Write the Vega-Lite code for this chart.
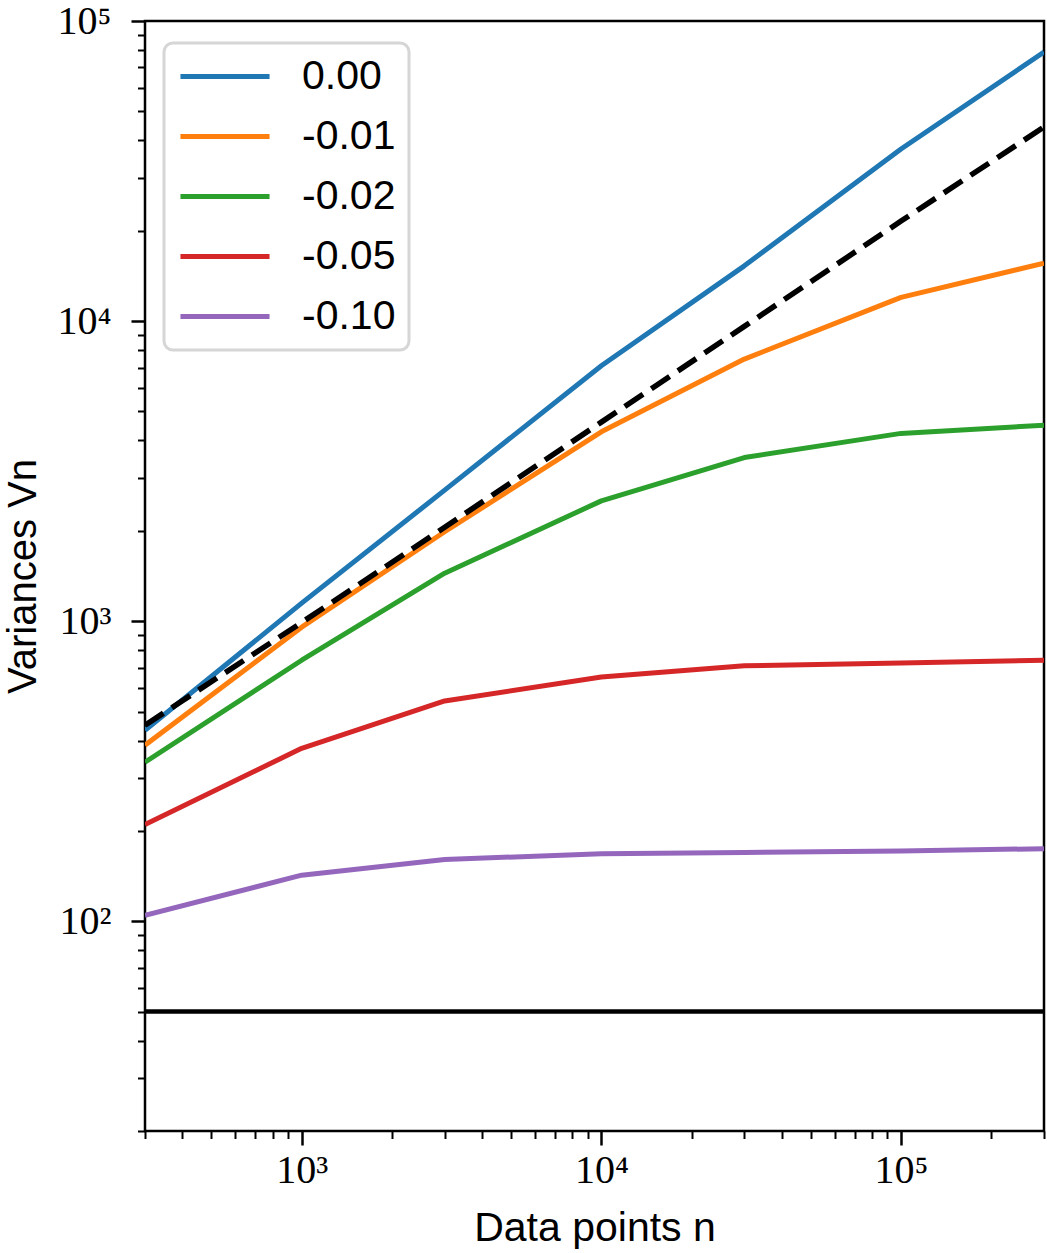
{
  "$schema": "https://vega.github.io/schema/vega-lite/v6.json",
  "width": 899,
  "height": 1110,
  "autosize": {"type": "none"},
  "padding": {"left": 145, "top": 21, "right": 3, "bottom": 122},
  "background": "white",
  "config": {
    "view": {"stroke": "black", "strokeWidth": 2.5},
    "axis": {"grid": false, "domain": false, "tickColor": "black", "labelColor": "black", "titleColor": "black"}
  },
  "datasets": {
    "curves": [
      {"n": 300, "v": 433, "s": "0.00"},
      {"n": 1000, "v": 1148, "s": "0.00"},
      {"n": 3000, "v": 2733, "s": "0.00"},
      {"n": 10000, "v": 7097, "s": "0.00"},
      {"n": 30000, "v": 15280, "s": "0.00"},
      {"n": 100000, "v": 37450, "s": "0.00"},
      {"n": 300000, "v": 78800, "s": "0.00"},
      {"n": 300, "v": 386, "s": "-0.01"},
      {"n": 1000, "v": 955, "s": "-0.01"},
      {"n": 3000, "v": 1986, "s": "-0.01"},
      {"n": 10000, "v": 4277, "s": "-0.01"},
      {"n": 30000, "v": 7470, "s": "-0.01"},
      {"n": 100000, "v": 12000, "s": "-0.01"},
      {"n": 300000, "v": 15600, "s": "-0.01"},
      {"n": 300, "v": 339, "s": "-0.02"},
      {"n": 1000, "v": 741, "s": "-0.02"},
      {"n": 3000, "v": 1445, "s": "-0.02"},
      {"n": 10000, "v": 2517, "s": "-0.02"},
      {"n": 30000, "v": 3510, "s": "-0.02"},
      {"n": 100000, "v": 4224, "s": "-0.02"},
      {"n": 300000, "v": 4500, "s": "-0.02"},
      {"n": 300, "v": 210, "s": "-0.05"},
      {"n": 1000, "v": 377, "s": "-0.05"},
      {"n": 3000, "v": 542, "s": "-0.05"},
      {"n": 10000, "v": 652, "s": "-0.05"},
      {"n": 30000, "v": 710, "s": "-0.05"},
      {"n": 100000, "v": 726, "s": "-0.05"},
      {"n": 300000, "v": 741, "s": "-0.05"},
      {"n": 300, "v": 104.7, "s": "-0.10"},
      {"n": 1000, "v": 142.4, "s": "-0.10"},
      {"n": 3000, "v": 160.6, "s": "-0.10"},
      {"n": 10000, "v": 168, "s": "-0.10"},
      {"n": 30000, "v": 169.5, "s": "-0.10"},
      {"n": 100000, "v": 171.5, "s": "-0.10"},
      {"n": 300000, "v": 174.5, "s": "-0.10"}
    ],
    "ref": [
      {"n": 300, "v": 450},
      {"n": 1000, "v": 990},
      {"n": 3000, "v": 2057},
      {"n": 10000, "v": 4605},
      {"n": 30000, "v": 9600},
      {"n": 100000, "v": 21540},
      {"n": 300000, "v": 44350}
    ],
    "hline": [{"level": 50}]
  },
  "resolve": {"axis": {"x": "independent", "y": "independent"}},
  "layer": [
    {
      "data": {"name": "curves"},
      "mark": {"type": "line", "strokeWidth": 5, "strokeJoin": "round", "clip": true},
      "encoding": {
        "x": {
          "field": "n", "type": "quantitative",
          "scale": {"type": "log", "domain": [300, 300000], "nice": false},
          "axis": {
            "orient": "bottom",
            "values": [1000, 10000, 100000],
            "labelExpr": "datum.value == 1000 ? '10³' : datum.value == 10000 ? '10⁴' : '10⁵'",
            "tickSize": 14, "tickWidth": 2.5,
            "labelFont": "Liberation Serif", "labelFontSize": 40, "labelPadding": 5,
            "title": "Data points n",
            "titleFont": "Liberation Sans", "titleFontSize": 41, "titleFontWeight": "normal",
            "titleY": 109, "titleBaseline": "alphabetic"
          }
        },
        "y": {
          "field": "v", "type": "quantitative",
          "scale": {"type": "log", "domain": [20, 100000], "nice": false},
          "axis": {
            "orient": "left",
            "values": [100, 1000, 10000, 100000],
            "labelExpr": "datum.value == 100 ? '10²' : datum.value == 1000 ? '10³' : datum.value == 10000 ? '10⁴' : '10⁵'",
            "tickSize": 14, "tickWidth": 2.5,
            "labelFont": "Liberation Serif", "labelFontSize": 40, "labelPadding": 20,
            "title": "Variances Vn",
            "titleFont": "Liberation Sans", "titleFontSize": 40, "titleFontWeight": "normal",
            "titleX": -110, "titleY": 555, "titleAngle": 270, "titleBaseline": "alphabetic", "titleAlign": "center"
          }
        },
        "color": {
          "field": "s", "type": "nominal",
          "scale": {
            "domain": ["0.00", "-0.01", "-0.02", "-0.05", "-0.10"],
            "range": ["#1f77b4", "#ff7f0e", "#2ca02c", "#d62728", "#9467bd"]
          },
          "legend": {
            "title": null,
            "orient": "none",
            "legendX": 19,
            "legendY": 22,
            "symbolType": "M-1.55,0H6.55",
            "symbolSize": 484,
            "symbolStrokeWidth": 5,
            "labelFont": "Liberation Sans",
            "labelFontSize": 41,
            "labelColor": "black",
            "labelOffset": 84,
            "padding": 13,
            "rowPadding": 18,
            "fillColor": "white",
            "strokeColor": "#d6d6d6",
            "cornerRadius": 9,
            "encode": {"legend": {"update": {"strokeWidth": {"value": 3}}}}
          }
        }
      }
    },
    {
      "data": {"name": "ref"},
      "mark": {"type": "line", "color": "black", "strokeWidth": 5.5, "strokeDash": [22, 10], "clip": true},
      "encoding": {
        "x": {
          "field": "n", "type": "quantitative",
          "scale": {"type": "log", "domain": [300, 300000], "nice": false},
          "axis": {
            "orient": "bottom",
            "values": [300, 400, 500, 600, 700, 800, 900, 2000, 3000, 4000, 5000, 6000, 7000, 8000, 9000, 20000, 30000, 40000, 50000, 60000, 70000, 80000, 90000, 200000, 300000],
            "labels": false, "tickSize": 7.5, "tickWidth": 2, "title": null
          }
        },
        "y": {
          "field": "v", "type": "quantitative",
          "scale": {"type": "log", "domain": [20, 100000], "nice": false},
          "axis": null
        }
      }
    },
    {
      "data": {"name": "hline"},
      "mark": {"type": "rule", "color": "black", "strokeWidth": 4.5},
      "encoding": {
        "y": {
          "field": "level", "type": "quantitative",
          "scale": {"type": "log", "domain": [20, 100000], "nice": false},
          "axis": {
            "orient": "left",
            "values": [20, 30, 40, 50, 60, 70, 80, 90, 200, 300, 400, 500, 600, 700, 800, 900, 2000, 3000, 4000, 5000, 6000, 7000, 8000, 9000, 20000, 30000, 40000, 50000, 60000, 70000, 80000, 90000],
            "labels": false, "tickSize": 7.5, "tickWidth": 2, "title": null
          }
        }
      }
    }
  ]
}
